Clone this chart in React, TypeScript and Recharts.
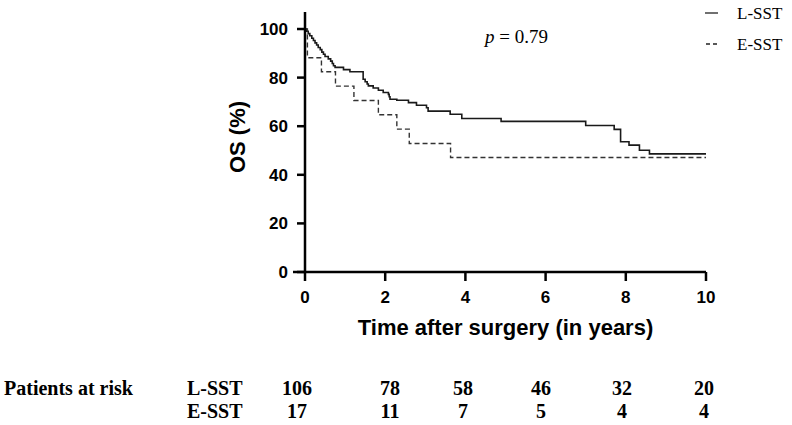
import React from 'react';
import { LineChart, Line, XAxis, YAxis, ReferenceLine } from 'recharts';

// L-SST Kaplan-Meier estimate (time in years, survival %)
const lsstTimes = [0, 0.04, 0.08, 0.12, 0.17, 0.21, 0.25, 0.29, 0.33, 0.38, 0.42, 0.46, 0.5, 0.58, 0.64, 0.68, 0.71, 0.75, 0.96, 1.12, 1.45, 1.5, 1.55, 1.58, 1.7, 1.83, 1.95, 2.08, 2.1, 2.12, 2.29, 2.58, 2.78, 3.03, 3.07, 3.62, 3.91, 4.89, 7.0, 7.71, 7.87, 8.08, 8.34, 8.59, 10];
const lsstSurv = [100, 99.1, 98.1, 97.2, 96.2, 95.3, 94.3, 93.4, 92.4, 91.5, 90.5, 89.6, 88.7, 87.7, 86.8, 85.8, 84.9, 84.2, 83.3, 82.4, 79.3, 78.3, 77.4, 76.6, 75.7, 74.8, 73.9, 73.1, 72.1, 71.1, 70.7, 69.7, 68.6, 67.6, 66.2, 64.9, 63.2, 62.0, 60.3, 58.7, 53.6, 52.2, 50.1, 48.6, 48.6];

// E-SST Kaplan-Meier estimate
const esstTimes = [0, 0.06, 0.41, 0.76, 1.22, 1.83, 2.29, 2.6, 3.63, 10];
const esstSurv = [100, 88.2, 82.4, 76.5, 70.6, 64.7, 58.8, 52.9, 47.1, 47.1];

const xTicks = [0, 2, 4, 6, 8, 10];
const yTicks = [0, 20, 40, 60, 80, 100];

const riskGroups = ['L-SST', 'E-SST'];
const riskLsst = [106, 78, 58, 46, 32, 20];
const riskEsst = [17, 11, 7, 5, 4, 4];
const pValue = '0.79';

const lsstData = lsstTimes.map((t, i) => ({ t, s: lsstSurv[i] }));
const esstData = esstTimes.map((t, i) => ({ t, s: esstSurv[i] }));

// layout (pixel) constants for the at-risk table columns
const riskColX = [297, 390, 463, 541, 622, 704];

const axisStyle = { stroke: '#000', strokeWidth: 2.5 };
const tickFont = { fontFamily: 'Liberation Sans, Arial, sans-serif', fontWeight: 700, fontSize: 17, fill: '#000' };
const serif = 'Liberation Serif, Times New Roman, serif';

export default function App() {
  return (
    <div style={{ position: 'absolute', left: 0, top: 0, width: 792, height: 425, background: '#fff' }}>
      <LineChart
        width={792}
        height={425}
        margin={{ top: 12, right: 86, bottom: 123, left: 245 }}
      >
        <XAxis
          type="number"
          dataKey="t"
          domain={[0, 10]}
          ticks={xTicks}
          height={30}
          axisLine={axisStyle}
          tickLine={axisStyle}
          tickSize={9}
          tickMargin={10}
          tick={tickFont}
          allowDuplicatedCategory={false}
        />
        <YAxis
          type="number"
          domain={[0, 107]}
          ticks={yTicks}
          width={60}
          axisLine={axisStyle}
          tickLine={axisStyle}
          tickSize={8}
          tickMargin={9}
          tick={tickFont}
          allowDataOverflow
        />
        <ReferenceLine
          segment={[{ x: -0.3, y: 0 }, { x: 0, y: 0 }]}
          stroke="#000"
          strokeWidth={2.5}
          ifOverflow="visible"
        />
        <Line
          data={lsstData}
          dataKey="s"
          type="stepAfter"
          stroke="#1a1a1a"
          strokeWidth={1.6}
          dot={false}
          isAnimationActive={false}
        />
        <Line
          data={esstData}
          dataKey="s"
          type="stepAfter"
          stroke="#333"
          strokeWidth={1.4}
          strokeDasharray="5 3"
          dot={false}
          isAnimationActive={false}
        />
      </LineChart>
      <svg
        width={792}
        height={425}
        style={{ position: 'absolute', left: 0, top: 0, pointerEvents: 'none' }}
      >
        <text
          transform="translate(245,137) rotate(-90)"
          textAnchor="middle"
          fontFamily="Liberation Sans, Arial, sans-serif"
          fontWeight={700}
          fontSize={22}
          fill="#000"
        >
          OS (%)
        </text>
        <text
          x={505.5}
          y={335}
          textAnchor="middle"
          fontFamily="Liberation Sans, Arial, sans-serif"
          fontWeight={700}
          fontSize={22}
          fill="#000"
        >
          Time after surgery (in years)
        </text>
        <text x={485} y={43} fontFamily={serif} fontSize={19} fill="#000">
          <tspan fontStyle="italic">p</tspan> = {pValue}
        </text>
        <line x1={705} y1={13} x2={718} y2={13} stroke="#222" strokeWidth={1.3} />
        <line x1={706} y1={44} x2={718} y2={44} stroke="#222" strokeWidth={1.3} strokeDasharray="4 3" />
        <text x={737} y={19} fontFamily={serif} fontSize={17} fill="#000">{riskGroups[0]}</text>
        <text x={737} y={50} fontFamily={serif} fontSize={17} fill="#000">{riskGroups[1]}</text>
        <text x={4} y={395} fontFamily={serif} fontWeight={700} fontSize={20} fill="#000">Patients at risk</text>
        <text x={187} y={395} fontFamily={serif} fontWeight={700} fontSize={20} fill="#000">{riskGroups[0]}</text>
        <text x={187} y={418} fontFamily={serif} fontWeight={700} fontSize={20} fill="#000">{riskGroups[1]}</text>
        {riskLsst.map((v, i) => (
          <text key={'l' + i} x={riskColX[i]} y={395} textAnchor="middle" fontFamily={serif} fontWeight={700} fontSize={20} fill="#000">{v}</text>
        ))}
        {riskEsst.map((v, i) => (
          <text key={'e' + i} x={riskColX[i]} y={418} textAnchor="middle" fontFamily={serif} fontWeight={700} fontSize={20} fill="#000">{v}</text>
        ))}
      </svg>
    </div>
  );
}
